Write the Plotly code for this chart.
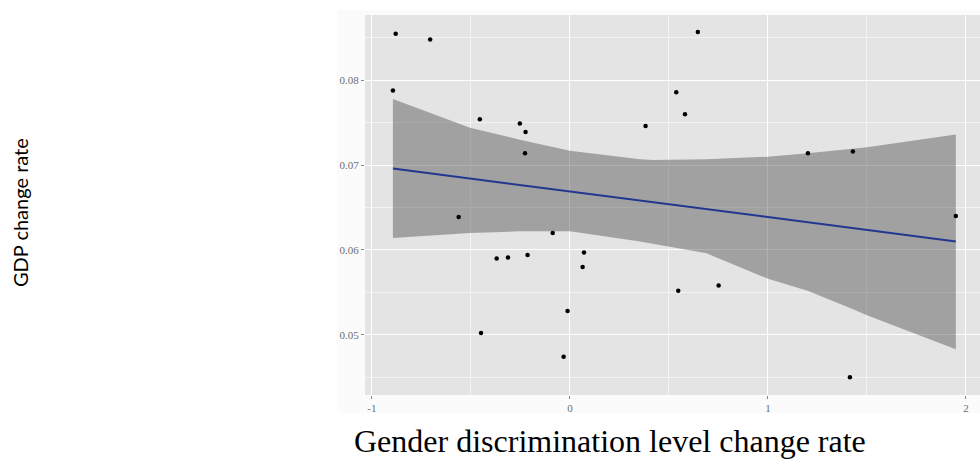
import plotly.graph_objects as go

# Scatter points
gender_rate = [-0.880, -0.706, -0.894, -0.455, -0.253, -0.224, -0.227, 0.382, -0.562,
               0.646, 0.537, 0.581, 1.202, 1.429, 1.949, -0.087, -0.370, -0.313,
               -0.214, 0.071, 0.064, -0.012, -0.449, -0.032, 0.547, 0.751, 1.414]
gdp_rate = [0.0855, 0.0848, 0.0788, 0.0754, 0.0749, 0.0739, 0.0714, 0.0746, 0.0639,
            0.0857, 0.0786, 0.0760, 0.0714, 0.0716, 0.0640, 0.0620, 0.0590, 0.0591,
            0.0594, 0.0597, 0.0580, 0.0528, 0.0502, 0.0474, 0.0552, 0.0558, 0.0450]

# Fitted line and confidence band
fit_x = [-0.894, 1.949]
fit_y = [0.0696, 0.0610]
band_x = [-0.894, -0.505, -0.253, 0.0, 0.354, 0.42, 0.69, 1.0, 1.2, 1.43, 1.5, 1.949]
band_upper = [0.0778, 0.0744, 0.0730, 0.0717, 0.0707, 0.0706, 0.0707, 0.0710, 0.0714, 0.0719, 0.0721, 0.0736]
band_lower = [0.0614, 0.0620, 0.0622, 0.0622, 0.0610, 0.0607, 0.0596, 0.0566, 0.0552, 0.0530, 0.0523, 0.0483]

x_ticks = [-1, 0, 1, 2]
y_ticks = [0.05, 0.06, 0.07, 0.08]
y_tick_labels = ["0.05", "0.06", "0.07", "0.08"]

fig = go.Figure()
fig.add_trace(go.Scatter(x=band_x + band_x[::-1], y=band_upper + band_lower[::-1],
                         fill="toself", fillcolor="rgba(70,70,70,0.42)", line=dict(width=0),
                         mode="lines", hoverinfo="skip", showlegend=False))
fig.add_trace(go.Scatter(x=fit_x, y=fit_y, mode="lines",
                         line=dict(color="#22378f", width=2), showlegend=False))
fig.add_trace(go.Scatter(x=gender_rate, y=gdp_rate, mode="markers",
                         marker=dict(color="black", size=4.5), showlegend=False))

W, H = 980, 467
L, R, T, B = 365, 0, 15, 72
PW, PH = W - L - R, H - T - B

tickfont = dict(family="Liberation Serif, Times New Roman, serif", size=11, color="#6e6e6e")

fig.update_layout(
    width=W, height=H,
    margin=dict(l=L, r=R, t=T, b=B, pad=0),
    paper_bgcolor="white",
    plot_bgcolor="#e4e4e4",
    showlegend=False,
    xaxis=dict(range=[-1.035, 2.071], tickvals=x_ticks, ticktext=[str(v) for v in x_ticks],
               showgrid=True, gridcolor="#ffffff", gridwidth=1.3, zeroline=False,
               ticks="outside", ticklen=3, tickcolor="#888", tickwidth=1,
               tickfont=tickfont,
               minor=dict(tickvals=[-0.5, 0.5, 1.5], showgrid=True, gridcolor="#f3f3f3", gridwidth=0.8),
               showline=False),
    yaxis=dict(range=[0.0429, 0.0877], tickvals=y_ticks, ticktext=y_tick_labels,
               showgrid=True, gridcolor="#ffffff", gridwidth=1.3, zeroline=False,
               ticks="outside", ticklen=3, tickcolor="#888", tickwidth=1,
               tickfont=tickfont,
               minor=dict(tickvals=[0.045, 0.055, 0.065, 0.075, 0.085], showgrid=True,
                          gridcolor="#f3f3f3", gridwidth=0.8),
               showline=False),
    shapes=[
        dict(type="rect", xref="paper", yref="paper", layer="below",
             x0=(337 - L) / PW, x1=1.0,
             y0=-(413 - (H - B)) / PH, y1=1 + (T - 10) / PH,
             fillcolor="#fbfbfb", line=dict(width=0)),
        dict(type="rect", xref="paper", yref="paper", layer="below",
             x0=0, x1=1, y0=0, y1=1,
             fillcolor="#e4e4e4", line=dict(width=0)),
    ],
    annotations=[
        dict(text="GDP change rate", xref="paper", yref="paper",
             x=-(L - 20) / PW, y=1 - (212 - T) / PH,
             textangle=-90, showarrow=False, xanchor="center", yanchor="middle",
             font=dict(family="Lato, Carlito, sans-serif", size=20, color="black")),
        dict(text="Gender discrimination level change rate", xref="paper", yref="paper",
             x=(610 - L) / PW, y=-(441 - (H - B)) / PH,
             showarrow=False, xanchor="center", yanchor="middle",
             font=dict(family="Liberation Serif, Times New Roman, serif", size=32, color="black")),
    ],
)

fig.write_html("out.html", config={"displayModeBar": False},
               post_script="document.body.style.margin='0';")
